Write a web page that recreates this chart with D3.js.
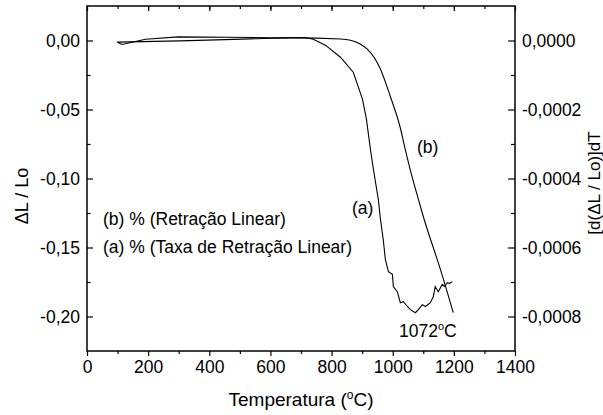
<!DOCTYPE html>
<html>
<head>
<meta charset="utf-8">
<script src="https://cdn.jsdelivr.net/npm/d3@7"></script>
<style>
  body { margin: 0; background: #fff; }
  svg text { font-family: "Liberation Sans", Arial, sans-serif; fill: #000; }
</style>
</head>
<body>
<div id="chart"></div>
<script>
// curve (b): retracao linear, left axis (dL/Lo)
var tempB = [99, 305, 534, 675, 829, 862, 895, 917, 960, 992, 1025, 1041, 1057, 1084, 1103, 1156, 1198];
var valB = [-0.0012, -0.0003, 0.0012, 0.0019, 0.0011, 0.0002, -0.0027, -0.0063, -0.0208, -0.0404,
    -0.0634, -0.0789, -0.0934, -0.1151, -0.1297, -0.1659, -0.1972];

// curve (a): taxa de retracao linear, right axis
var tempA = [99, 115, 191, 299, 463, 600, 714, 740, 780, 829, 871, 901, 914, 927, 937, 953, 960, 969,
    976, 986, 999, 1002, 1015, 1025, 1035, 1048, 1058, 1074, 1084, 1097, 1107, 1123, 1133, 1139,
    1149, 1162, 1169, 1179, 1185, 1195];
var valA = [-0.0000049, -0.0000116, 0.0000038, 0.0000105, 0.0000096, 0.000008, 0.0000087, 0.0000038,
    -0.0000136, -0.0000485, -0.000092, -0.000170, -0.000228, -0.000315, -0.000374, -0.000461,
    -0.000519, -0.000577, -0.000635, -0.000670, -0.000678, -0.000713, -0.000728, -0.000760,
    -0.000757, -0.000771, -0.000780, -0.000789, -0.000780, -0.000766, -0.000771, -0.000760,
    -0.000742, -0.000713, -0.000728, -0.000707, -0.000713, -0.000702, -0.000704, -0.000699];

var xTicks = [0, 200, 400, 600, 800, 1000, 1200, 1400];
var yLeftTicks = [0, -0.05, -0.10, -0.15, -0.20];
var yRightTicks = [0, -0.0002, -0.0004, -0.0006, -0.0008];

var W = 603, H = 415;
var margin = { top: 6, right: 88, bottom: 64, left: 87 };

var svg = d3.select("#chart").append("svg")
    .attr("width", W)
    .attr("height", H);

var x = d3.scaleLinear().domain([0, 1400]).range([margin.left, W - margin.right]);
var yL = d3.scaleLinear().domain([-0.225, 0.025]).range([H - margin.bottom, margin.top]);
var yR = d3.scaleLinear().domain([-0.0009, 0.0001]).range([H - margin.bottom, margin.top]);

var loc = d3.formatLocale({ decimal: ",", thousands: ".", grouping: [3], currency: ["", ""], minus: "-" });
var fmtL = loc.format(".2f");
var fmtR = loc.format(".4f");

var fs = 17.5;

// minor tick values
var xMinor = d3.range(100, 1400, 200);
var xTop = d3.range(100, 1400, 100);
var yLMinor = [-0.025, -0.075, -0.125, -0.175];
var yRMinor = [-0.0001, -0.0003, -0.0005, -0.0007];

function styleAxis(g) {
    g.select(".domain").remove();
    g.selectAll("line").attr("stroke", "#000").attr("stroke-width", 1.2);
    g.selectAll("text").attr("font-size", fs).attr("font-family", "Liberation Sans, Arial, sans-serif");
}

// bottom axis
var bottomY = H - margin.bottom;
svg.append("g").attr("transform", "translate(0," + bottomY + ")")
    .call(d3.axisBottom(x).tickValues(xTicks).tickSize(5).tickPadding(5).tickFormat(d3.format("d")))
    .call(styleAxis);
svg.append("g").attr("transform", "translate(0," + bottomY + ")")
    .call(d3.axisBottom(x).tickValues(xMinor).tickSize(3).tickFormat(""))
    .call(styleAxis);

// top axis (inward)
svg.append("g").attr("transform", "translate(0," + margin.top + ")")
    .call(d3.axisTop(x).tickValues(xTicks).tickSize(-5).tickFormat(""))
    .call(styleAxis);
svg.append("g").attr("transform", "translate(0," + margin.top + ")")
    .call(d3.axisTop(x).tickValues(xTop).tickSize(-3).tickFormat(""))
    .call(styleAxis);

// left axis (inward ticks)
svg.append("g").attr("transform", "translate(" + margin.left + ",0)")
    .call(d3.axisLeft(yL).tickValues(yLeftTicks).tickSize(-6).tickPadding(7).tickFormat(fmtL))
    .call(styleAxis);
svg.append("g").attr("transform", "translate(" + margin.left + ",0)")
    .call(d3.axisLeft(yL).tickValues(yLMinor).tickSize(-3.5).tickFormat(""))
    .call(styleAxis);

// right axis (inward ticks)
var rightX = W - margin.right;
svg.append("g").attr("transform", "translate(" + rightX + ",0)")
    .call(d3.axisRight(yR).tickValues(yRightTicks).tickSize(-7).tickPadding(7).tickFormat(fmtR))
    .call(styleAxis);
svg.append("g").attr("transform", "translate(" + rightX + ",0)")
    .call(d3.axisRight(yR).tickValues(yRMinor).tickSize(-4).tickFormat(""))
    .call(styleAxis);

// frame
svg.append("rect")
    .attr("x", margin.left)
    .attr("y", margin.top)
    .attr("width", rightX - margin.left)
    .attr("height", bottomY - margin.top)
    .attr("fill", "none")
    .attr("stroke", "#000")
    .attr("stroke-width", 1.5);

// curves
var lineB = d3.line().x(d => x(d[0])).y(d => yL(d[1])).curve(d3.curveMonotoneX);
var lineA = d3.line().x(d => x(d[0])).y(d => yR(d[1]));

svg.append("path")
    .attr("d", lineB(d3.zip(tempB, valB)))
    .attr("fill", "none")
    .attr("stroke", "#000")
    .attr("stroke-width", 1.1);

svg.append("path")
    .attr("d", lineA(d3.zip(tempA, valA)))
    .attr("fill", "none")
    .attr("stroke", "#000")
    .attr("stroke-width", 1.1);

// annotations
svg.append("text").attr("x", 352).attr("y", 214).attr("font-size", fs).text("(a)");
svg.append("text").attr("x", 417).attr("y", 153).attr("font-size", fs).text("(b)");

var t1072 = svg.append("text").attr("x", 399).attr("y", 337).attr("font-size", fs);
t1072.append("tspan").text("1072");
t1072.append("tspan").attr("font-size", 11).attr("dy", -7).text("o");
t1072.append("tspan").attr("dy", 7).text("C");

svg.append("text").attr("x", 103).attr("y", 225).attr("font-size", fs).text("(b) % (Retração Linear)");
svg.append("text").attr("x", 103).attr("y", 253).attr("font-size", fs).text("(a) % (Taxa de Retração Linear)");

// axis titles
var xt = svg.append("text")
    .attr("x", (margin.left + rightX) / 2)
    .attr("y", 406)
    .attr("text-anchor", "middle")
    .attr("font-size", 19);
xt.append("tspan").text("Temperatura (");
xt.append("tspan").attr("font-size", 12).attr("dy", -7).text("o");
xt.append("tspan").attr("dy", 7).text("C)");

svg.append("text")
    .attr("transform", "translate(28,196) rotate(-90)")
    .attr("text-anchor", "middle")
    .attr("font-size", 18)
    .text("ΔL / Lo");

svg.append("text")
    .attr("transform", "translate(600,183) rotate(-90)")
    .attr("text-anchor", "middle")
    .attr("font-size", 17)
    .text("[d(ΔL / Lo)]dT");
</script>
</body>
</html>
